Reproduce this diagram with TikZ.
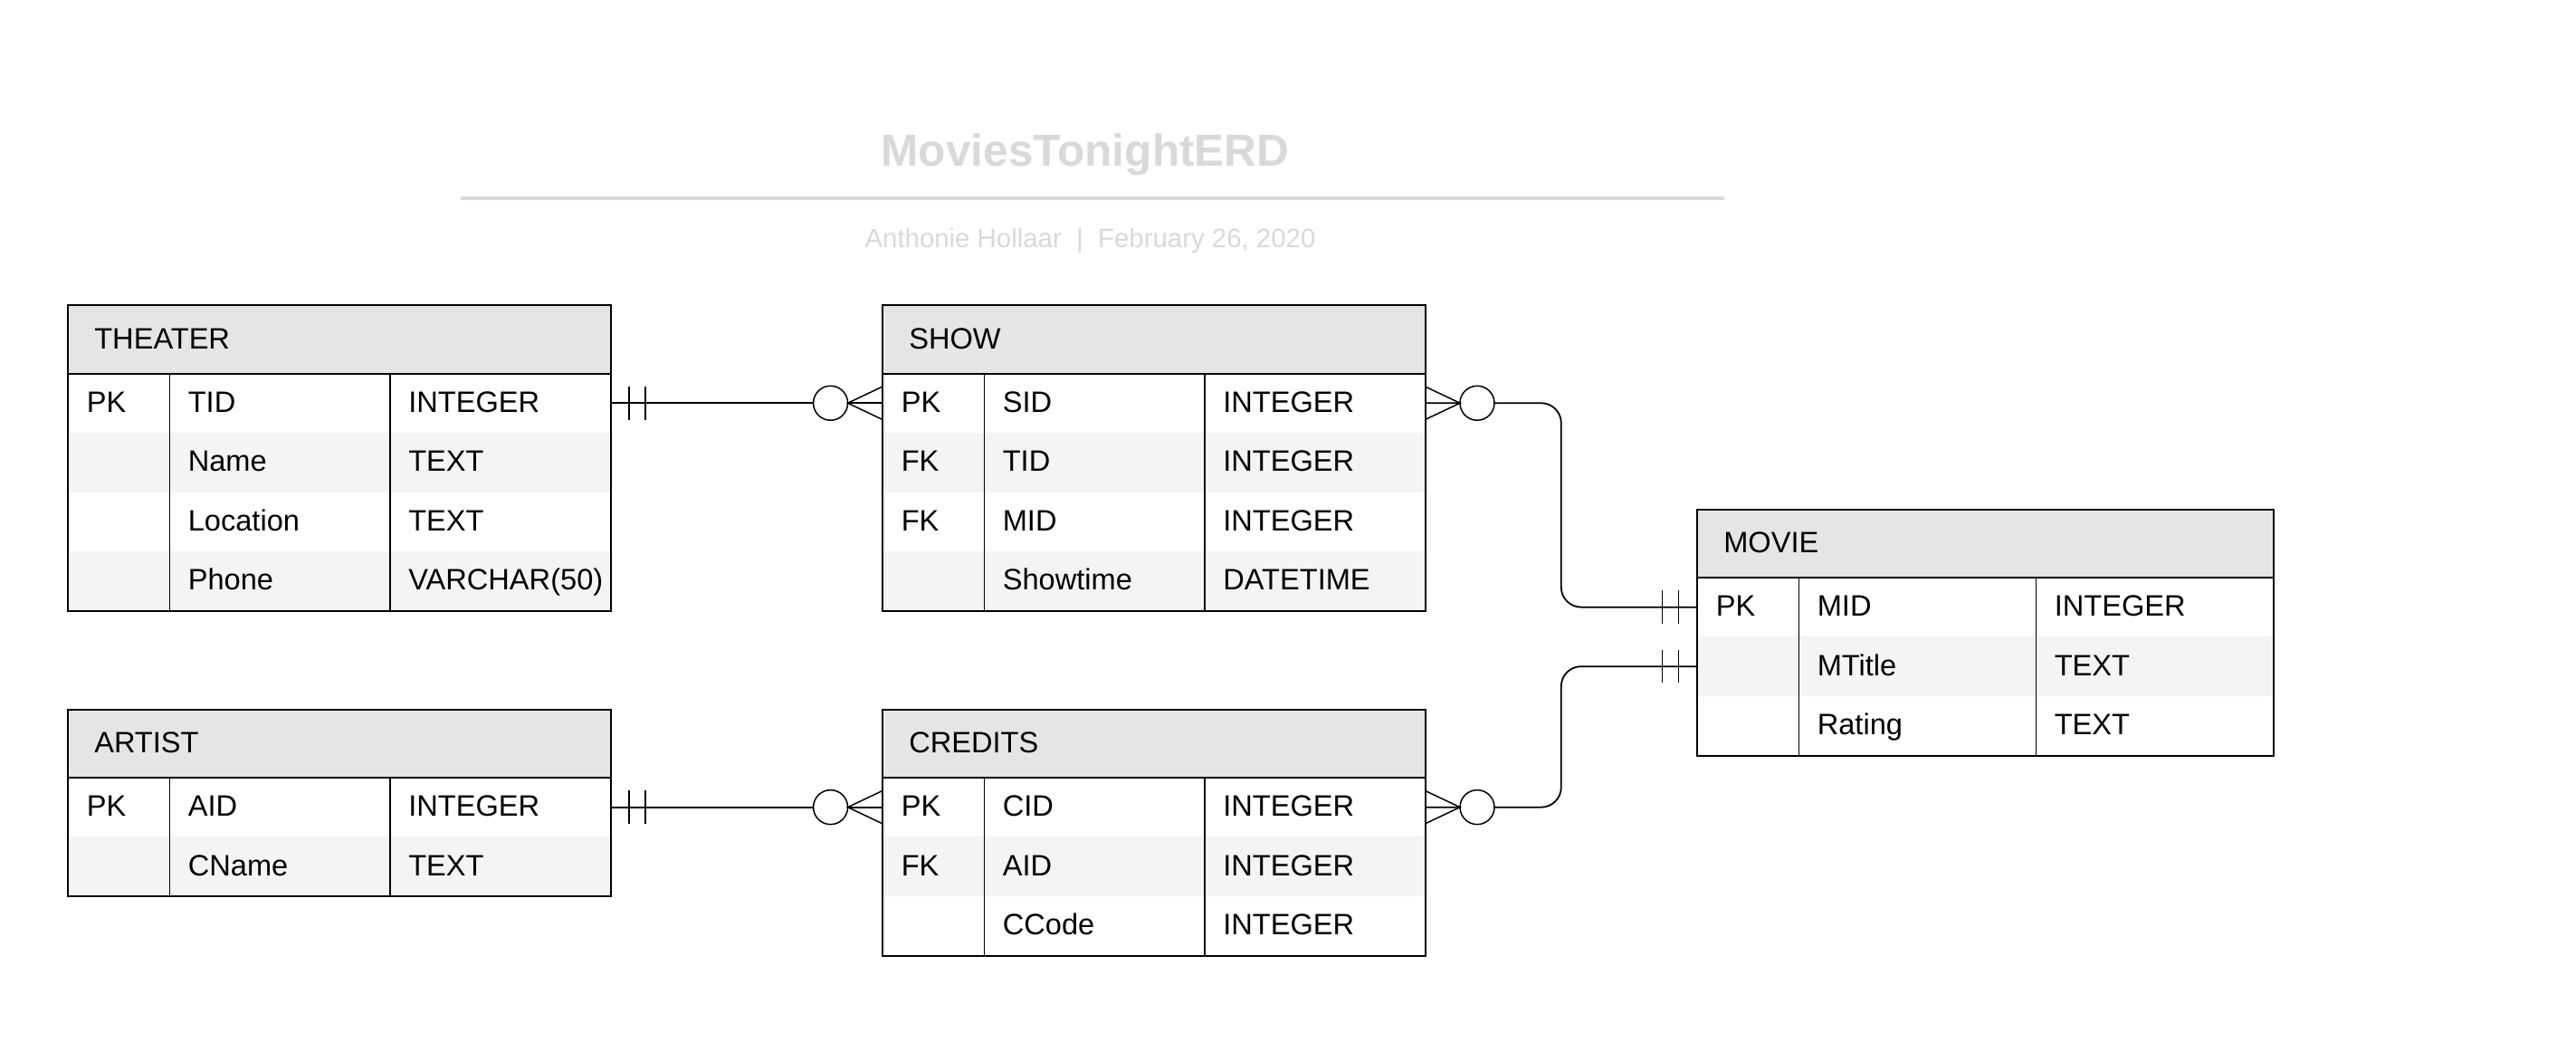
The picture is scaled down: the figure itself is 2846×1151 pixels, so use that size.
\documentclass[tikz,border=0pt]{standalone}
\usepackage{fontspec}
\setmainfont{Liberation Sans}
\usetikzlibrary{calc}
\definecolor{hdgray}{HTML}{E5E5E5}
\definecolor{rowgray}{HTML}{F4F4F4}
\definecolor{capgray}{HTML}{D9D9D9}
\newcommand{\erdtable}[6]{%
  \node[hdr, minimum width={113pt+2*#5pt}] (#1) at (#2,#3) {};
  \node[txt] (#1-name) at ([xshift=29.5pt]#1.west) {#4};
  \foreach \k/\f/\t [count=\i] in {#6}{
    \ifodd\i \def\rowfill{white}\else \def\rowfill{rowgray}\fi
    \node[rowbox, fill=\rowfill, minimum width={113pt+2*#5pt}] (#1-\i) at ({#2},{#3+75+(\i-1)*65.5}) {};
    \node[txt] (#1-\i-k) at ([xshift=21pt]#1-\i.west) {\k};
    \node[txt] (#1-\i-f) at ([xshift=133pt]#1-\i.west) {\f};
    \node[txt] (#1-\i-t) at ([xshift={133pt+#5pt}]#1-\i.west) {\t};
    \xdef\erdlast{\i}
  }
  \draw[tblline] ([xshift=113pt]#1.south west) -- ([xshift=113pt]#1-\erdlast.south west)
    ([xshift={113pt+#5pt}]#1.south west) -- ([xshift={113pt+#5pt}]#1-\erdlast.south west);
  \draw[tblborder] (#1.north west) rectangle (#1-\erdlast.south east)
    (#1.south west) -- (#1.south east);
}

\begin{document}
\begin{tikzpicture}[x=1pt,y=-1pt,
    hdr/.style={fill=hdgray, minimum height=75pt, anchor=north west, inner sep=0pt},
    rowbox/.style={minimum height=65.5pt, anchor=north west, inner sep=0pt},
    txt/.style={anchor=west, inner sep=0pt, text height=23.3pt, text depth=0pt, yshift=1.5pt,
      font=\fontsize{32.6}{39}\selectfont},
    tblline/.style={line width=1.5pt},
    tblborder/.style={line width=2pt},
    rel/.style={line width=1.8pt},
    onebar/.pic={\draw[line width=1.5pt] (20,-18.3) -- (20,18.3) (38,-18.3) -- (38,18.3);},
    crowfoot/.pic={\draw[line width=1.5pt, fill=white] (57,0) circle (19pt);
      \draw[line width=1.5pt] (0,-18) -- (38,0) -- (0,18);}]
\useasboundingbox (0,0) rectangle (2846,1151);

\node[font=\bfseries\fontsize{49.6}{58}\selectfont, text=capgray, anchor=base, inner sep=0pt] (title) at (1199,183) {MoviesTonightERD};
\draw[capgray, line width=4pt] (509,219) -- (1905,219);
\node[font=\fontsize{29.4}{35}\selectfont, text=capgray, anchor=base, inner sep=0pt] (byline) at (1204.5,273) {Anthonie Hollaar\ \ |\ \ February 26, 2020};

\erdtable{theater}{74.6}{337.3}{THEATER}{243.5}{PK/TID/INTEGER, {}/Name/TEXT, {}/Location/TEXT, {}/Phone/{VARCHAR(50)}}
\erdtable{show}{974.6}{337.3}{SHOW}{243.5}{PK/SID/INTEGER, FK/TID/INTEGER, FK/MID/INTEGER, {}/Showtime/DATETIME}
\erdtable{artist}{74.6}{783.7}{ARTIST}{243.5}{PK/AID/INTEGER, {}/CName/TEXT}
\erdtable{credits}{974.6}{783.7}{CREDITS}{243.5}{PK/CID/INTEGER, FK/AID/INTEGER, {}/CCode/INTEGER}
\erdtable{movie}{1874.6}{562.7}{MOVIE}{262}{PK/MID/INTEGER, {}/MTitle/TEXT, {}/Rating/TEXT}

\draw[rel] (theater-1.east) -- (show-1.west);
\draw[rel] (artist-1.east) -- (credits-1.west);
\draw[rel, rounded corners=22pt] (show-1.east) -| ($(show-1.east)!0.5!(movie-1.west)$) |- (movie-1.west);
\draw[rel, rounded corners=22pt] (credits-1.east) -| ($(credits-1.east)!0.5!(movie-2.west)$) |- (movie-2.west);

\pic at (theater-1.east) {onebar};
\pic[xscale=-1] at (show-1.west) {crowfoot};
\pic at (show-1.east) {crowfoot};
\pic[xscale=-1] at (movie-1.west) {onebar};
\pic at (artist-1.east) {onebar};
\pic[xscale=-1] at (credits-1.west) {crowfoot};
\pic at (credits-1.east) {crowfoot};
\pic[xscale=-1] at (movie-2.west) {onebar};
\end{tikzpicture}
\end{document}
